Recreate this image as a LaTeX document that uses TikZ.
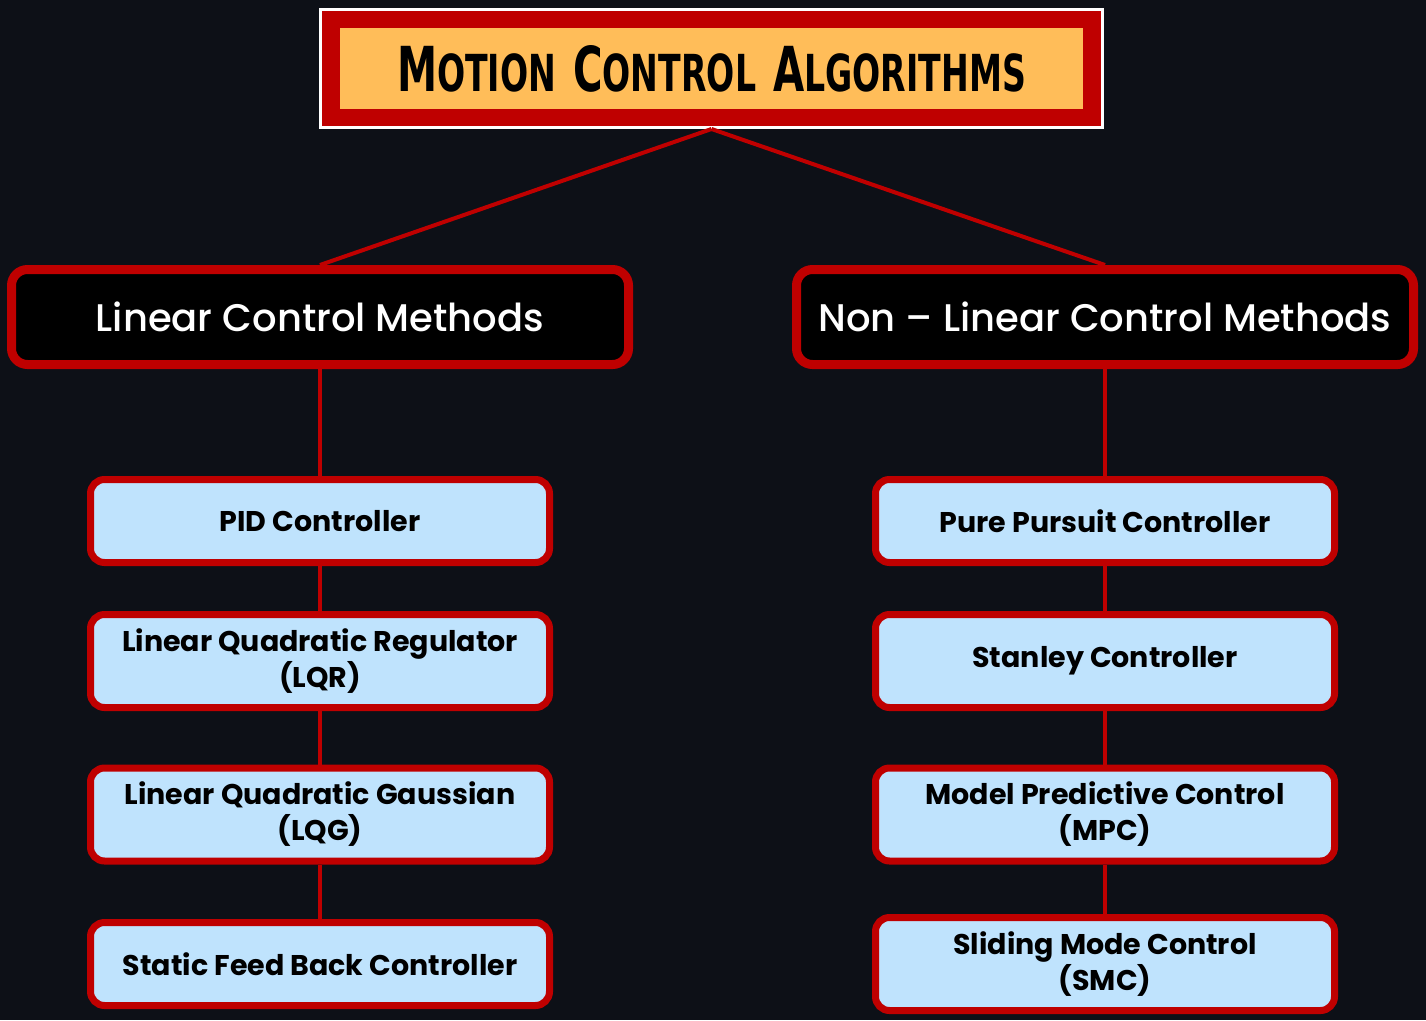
\documentclass[tikz,border=0pt]{standalone}
\usepackage{fontspec}
\setmainfont{Poppins}
\newfontfamily\catfont{Poppins}[UprightFont=* Medium]
\newfontfamily\titlefont[FakeStretch=0.65]{DejaVu Sans}
\usetikzlibrary{positioning}

\definecolor{bgdark}{HTML}{0D1017}
\definecolor{ctrlred}{HTML}{BF0000}
\definecolor{titleorange}{HTML}{FFBD59}
\definecolor{leafblue}{HTML}{BFE3FD}

% big first letter, smaller rest
\newcommand{\capword}[2]{{\fontsize{62}{62}\selectfont #1}{\fontsize{51}{51}\selectfont #2}}

\begin{document}
\begin{tikzpicture}[
        x=1pt, y=-1pt,
        node distance=785pt,
        on grid,
        link/.style={draw=ctrlred, line width=4pt},
        titleframe/.style={draw=white, line width=3pt, fill=ctrlred, minimum width=782pt, minimum height=118pt, inner sep=0pt},
        titlebox/.style={fill=titleorange, minimum width=743pt, minimum height=81pt, inner sep=0pt, font=\titlefont\bfseries},
        category/.style={draw=ctrlred, line width=9pt, fill=black, rounded corners=16pt, minimum width=617pt, minimum height=95pt, inner sep=0pt, text=white, font=\catfont\fontsize{38.5}{40}\selectfont},
        method/.style={draw=ctrlred, line width=7pt, fill=leafblue, rounded corners=14pt, minimum width=459pt, minimum height=83pt, inner sep=0pt, align=center, font=\fontsize{28.5}{36}\selectfont\bfseries},
        twoline/.style={minimum height=93pt}
    ]
    \fill[bgdark] (0,0) rectangle (1426,1020);
    \useasboundingbox (0,0) rectangle (1426,1020);

    \node[titleframe] (frame) at (711.5,68.5) {};
    \node[titlebox] (title) at (frame) {\capword{M}{OTION}\hspace{17pt}\capword{C}{ONTROL}\hspace{17pt}\capword{A}{LGORITHMS}};

    \node[category] (lincat) at (320,317) {Linear Control Methods};
    \node[category, right=of lincat] (nonlincat) {Non – Linear Control Methods};

    \node[method] (pid) at (320,521) {PID Controller};
    \node[method, twoline] (lqr) at (320,661) {Linear Quadratic Regulator\\(LQR)};
    \node[method, twoline] (lqg) at (320,814.5) {Linear Quadratic Gaussian\\(LQG)};
    \node[method] (sfb) at (320,964) {Static Feed Back Controller};

    \node[method, right=of pid] (pure) {Pure Pursuit Controller};
    \node[method, twoline, right=of lqr] (stanley) {Stanley Controller};
    \node[method, twoline, right=of lqg] (mpc) {Model Predictive Control\\(MPC)};
    \node[method, twoline, right=of sfb] (smc) {Sliding Mode Control\\(SMC)};

    \path[link]
        (frame.south) edge (lincat.north)
        (frame.south) edge (nonlincat.north);
    \path[link]
        (lincat) edge (pid)
        (pid) edge (lqr)
        (lqr) edge (lqg)
        (lqg) edge (sfb)
        (nonlincat) edge (pure)
        (pure) edge (stanley)
        (stanley) edge (mpc)
        (mpc) edge (smc);
\end{tikzpicture}
\end{document}
